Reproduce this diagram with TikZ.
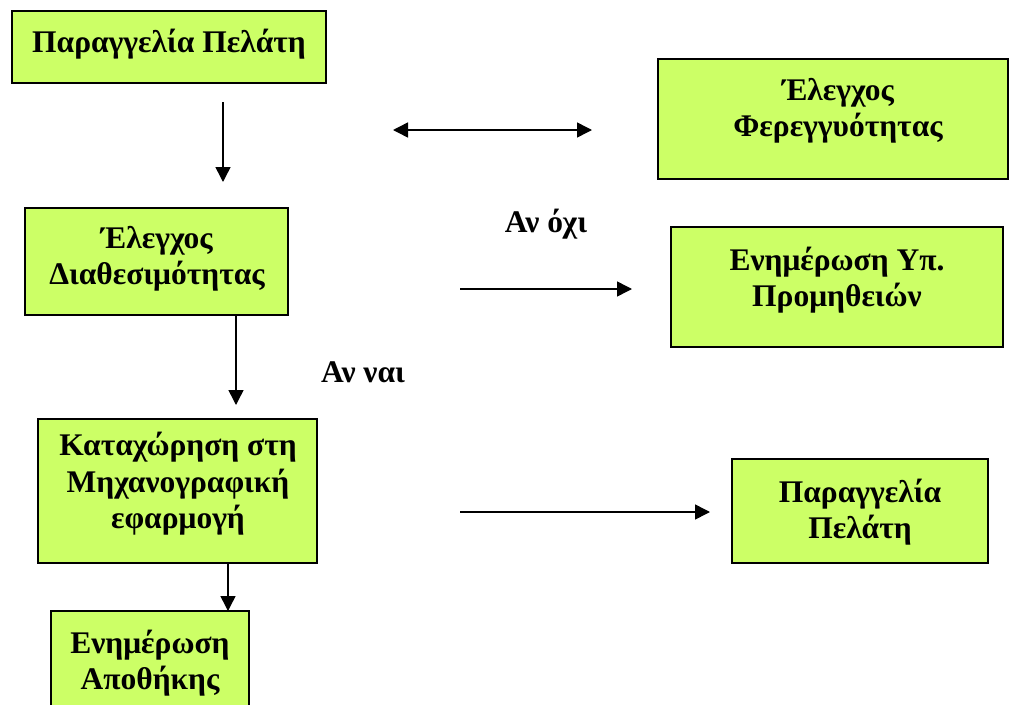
\documentclass[tikz,border=0pt]{standalone}
\usepackage{fontspec}
\setmainfont{Liberation Serif}
\usetikzlibrary{arrows.meta}
\definecolor{boxfill}{RGB}{204,255,102}
\tikzset{
  box/.style={draw=black, line width=1.6pt, fill=boxfill, inner sep=0pt},
  boxtext/.style={align=center, inner sep=0pt,
    font=\fontsize{31.5}{36.5}\selectfont\bfseries},
  lbl/.style={inner sep=0pt, font=\fontsize{31.5}{36.5}\selectfont\bfseries},
  flow/.style={line width=1.5pt, -{Triangle[length=15pt,width=15pt]}},
  both/.style={line width=1.5pt,
    {Triangle[length=15pt,width=15pt]}-{Triangle[length=15pt,width=15pt]}}
}
\begin{document}
\begin{tikzpicture}[x=1pt,y=-1pt]
\useasboundingbox (0,0) rectangle (1009,704);
% boxes, drawn by their corners
\path[box] (12,11) rectangle (326,83);
\path[box] (658,59) rectangle (1008,179);
\path[box] (25,208) rectangle (288,315);
\path[box] (671,227) rectangle (1003,347);
\path[box] (38,419) rectangle (317,563);
\path[box] (732,459) rectangle (988,563);
\path[box] (51,611) rectangle (249,720);
% box texts
\node[boxtext] (order) at (169,44) {Παραγγελία Πελάτη};
\node[boxtext] (trust) at (838,111) {Έλεγχος\\Φερεγγυότητας};
\node[boxtext] (avail) at (157,259) {Έλεγχος\\Διαθεσιμότητας};
\node[boxtext] (supp) at (837,280) {Ενημέρωση Υπ.\\Προμηθειών};
\node[boxtext] (entry) at (178,484) {Καταχώρηση στη\\Μηχανογραφική\\εφαρμογή};
\node[boxtext] (order2) at (860,512) {Παραγγελία\\Πελάτη};
\node[boxtext] (store) at (150,663) {Ενημέρωση\\Αποθήκης};
% branch labels
\node[lbl] (no) at (546,224) {Αν όχι};
\node[lbl] (yes) at (363,372) {Αν ναι};
% connector ends
\coordinate (a1s) at (223,102);  \coordinate (a1e) at (223,182);
\coordinate (a2s) at (236,315);  \coordinate (a2e) at (236,405);
\coordinate (a3s) at (228,563);  \coordinate (a3e) at (228,611);
\coordinate (d1)  at (393,130);  \coordinate (d2)  at (592,130);
\coordinate (a4s) at (460,289);  \coordinate (a4e) at (632,289);
\coordinate (a5s) at (460,512);  \coordinate (a5e) at (710,512);
% connectors
\draw[flow] (a1s) -- (a1e);
\draw[flow] (a2s) -- (a2e);
\draw[flow] (a3s) -- (a3e);
\draw[both] (d1) -- (d2);
\draw[flow] (a4s) -- (a4e);
\draw[flow] (a5s) -- (a5e);
\end{tikzpicture}
\end{document}
